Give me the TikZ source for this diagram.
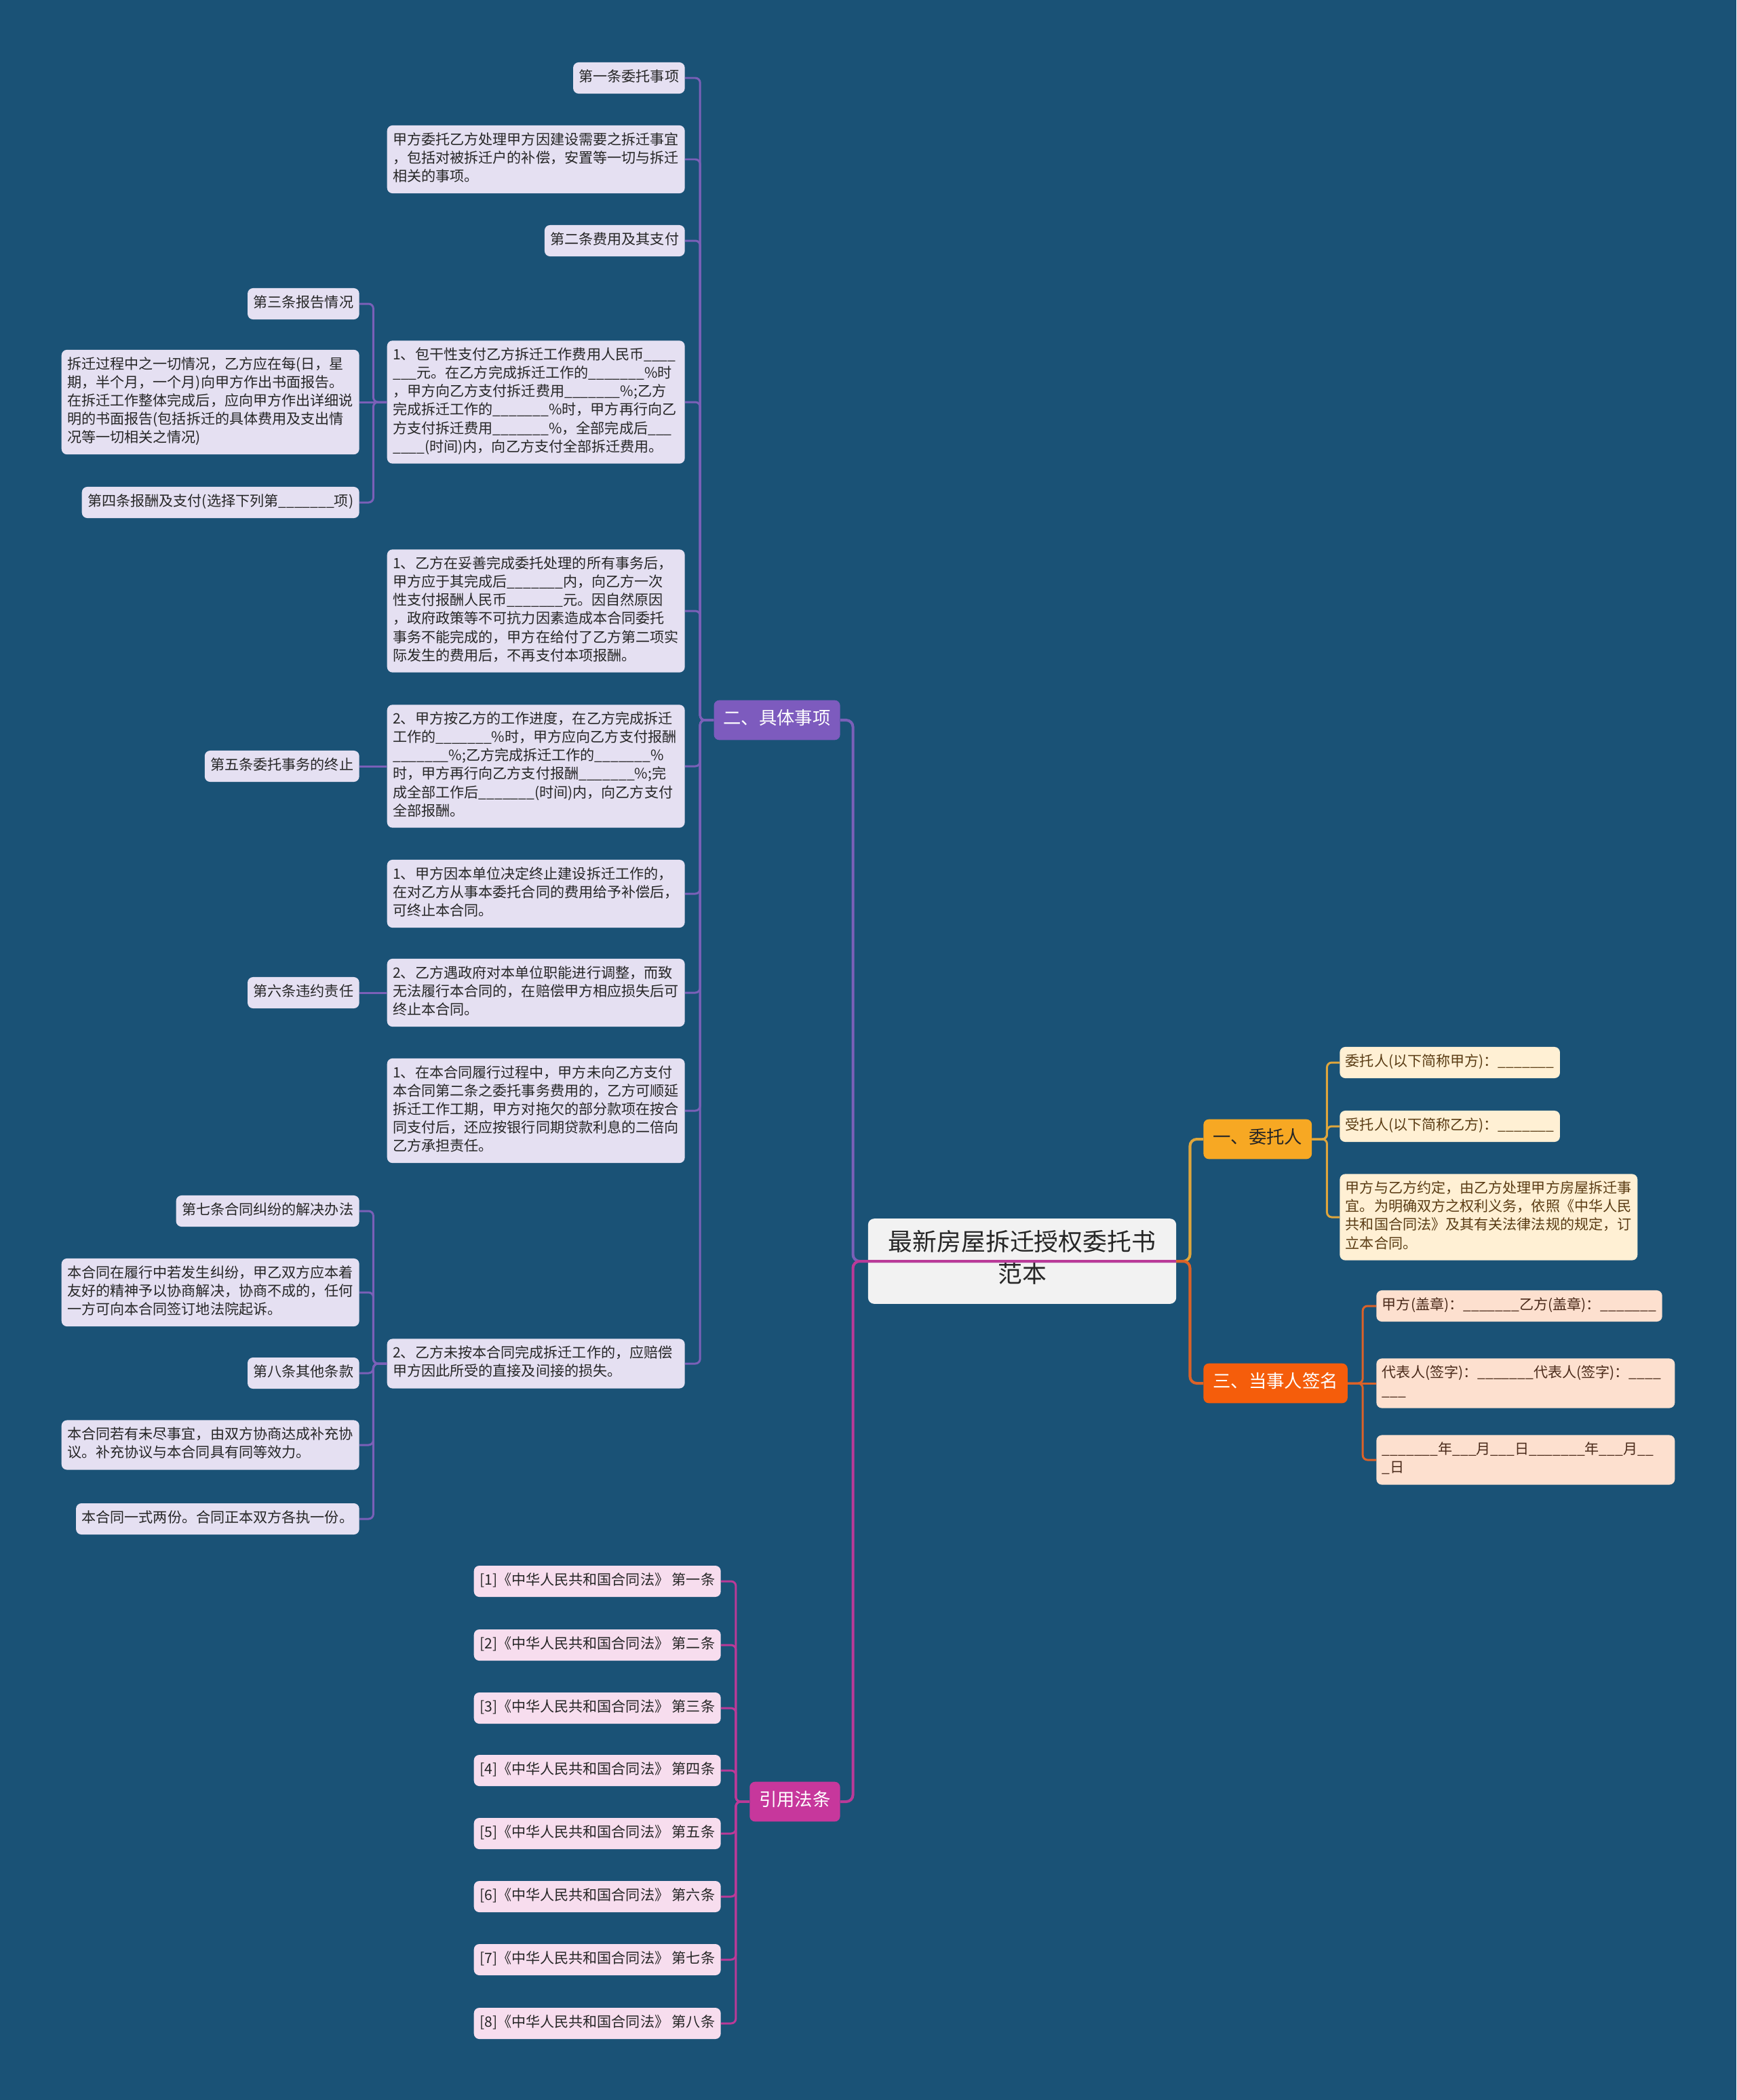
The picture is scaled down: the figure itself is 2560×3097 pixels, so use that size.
\documentclass[tikz,border=0pt]{standalone}
\usepackage{fontspec}
\newfontfamily\cjk{Noto Sans CJK SC}
\definecolor{mapbg}{HTML}{1A5276}
\definecolor{inkdark}{HTML}{262626}
\definecolor{rootfill}{HTML}{F2F2F2}
\definecolor{sjpurple}{HTML}{7D5BBE}
\definecolor{sjline}{HTML}{7A60B8}
\definecolor{sjleaf}{HTML}{E5E0F2}
\definecolor{yfmag}{HTML}{C7379C}
\definecolor{yfline}{HTML}{BA3A98}
\definecolor{yfleaf}{HTML}{F7DDEE}
\definecolor{wtgold}{HTML}{F7A823}
\definecolor{wtline}{HTML}{DFA63C}
\definecolor{wtleaf}{HTML}{FFF0D4}
\definecolor{wttext}{HTML}{5A3C14}
\definecolor{qmorange}{HTML}{F55D0B}
\definecolor{qmline}{HTML}{DB6228}
\definecolor{qmleaf}{HTML}{FDE0CF}
\definecolor{qmtext}{HTML}{4A2A1A}
\usepackage{tikz}
\newcommand{\fillin}{\_\_\_\_\_\_\_}

\begin{document}
\begin{tikzpicture}[x=0.02cm, y=-0.02cm,
    box/.style={rounded corners=0.16cm, align=left, inner xsep=0.17cm, inner ysep=0.19cm,
                font=\cjk\fontsize{12}{15.4}\selectfont, text=inkdark,
                execute at begin node=\strut, execute at end node=\strut},
    wide/.style={text width=8.44cm},
    leafp/.style={box, fill=sjleaf},
    leafm/.style={box, fill=yfleaf},
    leafy/.style={box, fill=wtleaf, text=wttext},
    leafo/.style={box, fill=qmleaf, text=qmtext},
    branch/.style={rounded corners=0.16cm, inner xsep=0.28cm, inner ysep=7.2pt,
                   font=\cjk\fontsize{15}{19}\selectfont, text=white,
                   execute at begin node=\strut},
    rootbox/.style={rounded corners=0.18cm, fill=rootfill, align=center,
                    inner xsep=0.6cm, inner ysep=9.6pt,
                    font=\cjk\fontsize{20.4}{27}\selectfont, text=inkdark,
                    execute at begin node=\strut, execute at end node=\strut},
    trunk/.style={line width=2.3pt, rounded corners=0.2cm},
    link/.style={line width=1.7pt, rounded corners=0.14cm},
  ]
  \fill[mapbg] (0,0) rectangle (2560,3097);
  \useasboundingbox (0,0) rectangle (2560,3097);

  % Root and main branches
  \node[rootbox] (root) at (1507,1860) {最新房屋拆迁授权委托书\\范本};
  \node[branch, fill=sjpurple, anchor=east] (jtsx) at (1239,1062) {二、具体事项};
  \node[branch, fill=yfmag, anchor=east]    (yyfk) at (1239,2657) {引用法条};
  \node[branch, fill=wtgold, text=inkdark, anchor=west] (wtr) at (1774,1680) {一、委托人};
  \node[branch, fill=qmorange, anchor=west] (dsr) at (1774,2040) {三、当事人签名};

  % 二、具体事项
  \node[leafp, anchor=east] (t1) at (1010,115) {第一条委托事项};
  \node[leafp, wide, anchor=east] (t2) at (1010,235) {甲方委托乙方处理甲方因建设需要之拆迁事宜\\，包括对被拆迁户的补偿，安置等一切与拆迁\\相关的事项。};
  \node[leafp, anchor=east] (t3) at (1010,355) {第二条费用及其支付};
  \node[leafp, wide, anchor=east] (t4) at (1010,593) {1、包干性支付乙方拆迁工作费用人民币\_\_\_\_\\\_\_\_元。在乙方完成拆迁工作的\fillin\%时\\，甲方向乙方支付拆迁费用\fillin\%;乙方\\完成拆迁工作的\fillin\%时，甲方再行向乙\\方支付拆迁费用\fillin\%，全部完成后\_\_\_\\\_\_\_\_(时间)内，向乙方支付全部拆迁费用。};
  \node[leafp, wide, anchor=east] (t5) at (1010,901) {1、乙方在妥善完成委托处理的所有事务后，\\甲方应于其完成后\fillin 内，向乙方一次\\性支付报酬人民币\fillin 元。因自然原因\\，政府政策等不可抗力因素造成本合同委托\\事务不能完成的，甲方在给付了乙方第二项实\\际发生的费用后，不再支付本项报酬。};
  \node[leafp, wide, anchor=east] (t6) at (1010,1130) {2、甲方按乙方的工作进度，在乙方完成拆迁\\工作的\fillin\%时，甲方应向乙方支付报酬\\\fillin\%;乙方完成拆迁工作的\fillin\%\\时，甲方再行向乙方支付报酬\fillin\%;完\\成全部工作后\fillin(时间)内，向乙方支付\\全部报酬。};
  \node[leafp, wide, anchor=east] (t7) at (1010,1318) {1、甲方因本单位决定终止建设拆迁工作的，\\在对乙方从事本委托合同的费用给予补偿后，\\可终止本合同。};
  \node[leafp, wide, anchor=east] (t8) at (1010,1464) {2、乙方遇政府对本单位职能进行调整，而致\\无法履行本合同的，在赔偿甲方相应损失后可\\终止本合同。};
  \node[leafp, wide, anchor=east] (t9) at (1010,1638) {1、在本合同履行过程中，甲方未向乙方支付\\本合同第二条之委托事务费用的，乙方可顺延\\拆迁工作工期，甲方对拖欠的部分款项在按合\\同支付后，还应按银行同期贷款利息的二倍向\\乙方承担责任。};
  \node[leafp, wide, anchor=east] (t10) at (1010,2011) {2、乙方未按本合同完成拆迁工作的，应赔偿\\甲方因此所受的直接及间接的损失。};

  % third level
  \node[leafp, anchor=east] (c1) at (530,448) {第三条报告情况};
  \node[leafp, wide, anchor=east] (c2) at (530,593) {拆迁过程中之一切情况，乙方应在每(日，星\\期，半个月，一个月)向甲方作出书面报告。\\在拆迁工作整体完成后，应向甲方作出详细说\\明的书面报告(包括拆迁的具体费用及支出情\\况等一切相关之情况)};
  \node[leafp, anchor=east] (c3) at (530,741) {第四条报酬及支付(选择下列第\fillin 项)};
  \node[leafp, anchor=east] (e5) at (530,1130) {第五条委托事务的终止};
  \node[leafp, anchor=east] (e6) at (530,1464) {第六条违约责任};
  \node[leafp, anchor=east] (d1) at (530,1786) {第七条合同纠纷的解决办法};
  \node[leafp, wide, anchor=east] (d2) at (530,1906) {本合同在履行中若发生纠纷，甲乙双方应本着\\友好的精神予以协商解决，协商不成的，任何\\一方可向本合同签订地法院起诉。};
  \node[leafp, anchor=east] (d3) at (530,2025) {第八条其他条款};
  \node[leafp, wide, anchor=east] (d4) at (530,2131) {本合同若有未尽事宜，由双方协商达成补充协\\议。补充协议与本合同具有同等效力。};
  \node[leafp, anchor=east] (d5) at (530,2240) {本合同一式两份。合同正本双方各执一份。};

  % 引用法条
  \foreach \i/\n/\y in {1/一/2332, 2/二/2426, 3/三/2519, 4/四/2611,
                        5/五/2704, 6/六/2797, 7/七/2890, 8/八/2984}
    \node[leafm, anchor=east] (k\i) at (1063,\y) {[\i]《中华人民共和国合同法》 第\n 条};

  % 一、委托人
  \node[leafy, anchor=west] (a1) at (1975,1567) {委托人(以下简称甲方)：\fillin};
  \node[leafy, anchor=west] (a2) at (1975,1661) {受托人(以下简称乙方)：\fillin};
  \node[leafy, wide, anchor=west] (a3) at (1975,1795) {甲方与乙方约定，由乙方处理甲方房屋拆迁事\\宜。为明确双方之权利义务，依照《中华人民\\共和国合同法》及其有关法律法规的规定，订\\立本合同。};

  % 三、当事人签名
  \node[leafo, anchor=west] (q1) at (2029,1926) {甲方(盖章)：\fillin 乙方(盖章)：\fillin};
  \node[leafo, text width=8.46cm, anchor=west] (q2) at (2029,2040) {代表人(签字)：\fillin 代表人(签字)：\_\_\_\_\\\_\_\_};
  \node[leafo, text width=8.46cm, anchor=west] (q3) at (2029,2153) {\fillin 年\_\_\_月\_\_\_日\fillin 年\_\_\_月\_\_\\\_日};

  % Connectors from the root
  \draw[trunk, sjline] (root.east) -- ([xshift=-0.44cm]root.west) |- (jtsx.east);
  \draw[trunk, yfline] (root.east) -- ([xshift=-0.44cm]root.west) |- (yyfk.east);
  \draw[trunk, wtline] (root.east) -- ([xshift=0.4cm]root.east) |- (wtr.west);
  \draw[trunk, qmline] (root.east) -- ([xshift=0.4cm]root.east) |- (dsr.west);

  % Connectors to leaves
  \foreach \c in {t1,t2,t3,t4,t5,t6,t7,t8,t9,t10}
    \draw[link, sjline] (jtsx.west) -- ([xshift=-0.4cm]jtsx.west) |- (\c.east);
  \foreach \c in {c1,c3}
    \draw[link, sjline] (t4.west) -- ([xshift=-0.4cm]t4.west) |- (\c.east);
  \draw[link, sjline] (t4.west) -- (c2.east);
  \draw[link, sjline] (t6.west) -- (e5.east);
  \draw[link, sjline] (t8.west) -- (e6.east);
  \foreach \c in {d1,d2,d3,d4,d5}
    \draw[link, sjline] (t10.west) -- ([xshift=-0.4cm]t10.west) |- (\c.east);
  \foreach \i in {1,...,8}
    \draw[link, yfline] (yyfk.west) -- ([xshift=-0.4cm]yyfk.west) |- (k\i.east);
  \foreach \c in {a1,a2,a3}
    \draw[link, wtline] (wtr.east) -- ([xshift=0.44cm]wtr.east) |- (\c.west);
  \foreach \c in {q1,q3}
    \draw[link, qmline] (dsr.east) -- ([xshift=0.44cm]dsr.east) |- (\c.west);
  \draw[link, qmline] (dsr.east) -- (q2.west);
\end{tikzpicture}
\end{document}
